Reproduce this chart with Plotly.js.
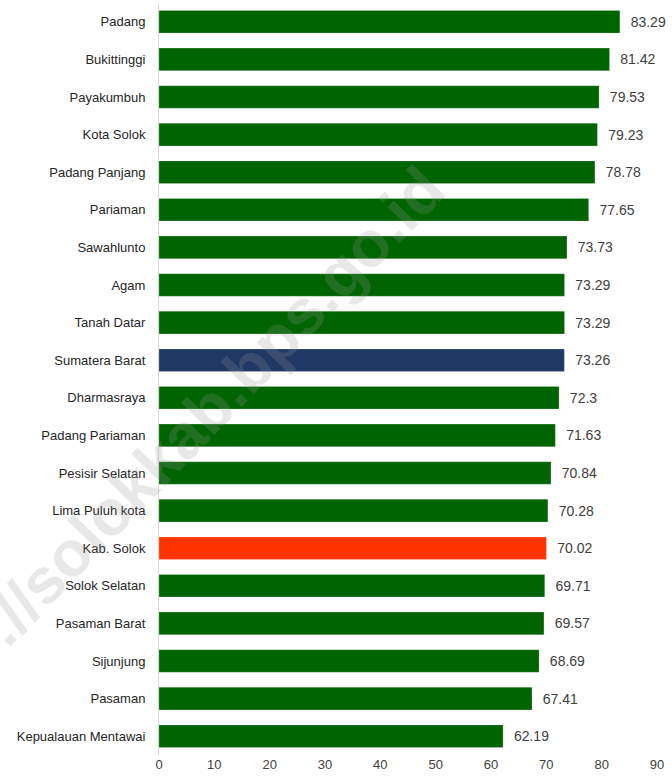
<!DOCTYPE html>
<html>
<head>
<meta charset="utf-8">
<script src="https://cdn.plot.ly/plotly-3.0.1.min.js"></script>
<style>html,body{margin:0;padding:0;background:#fff}#chart{width:672px;height:782px}</style>
</head>
<body>
<div id="chart"></div>
<script>
const regions = ["Padang","Bukittinggi","Payakumbuh","Kota Solok","Padang Panjang","Pariaman","Sawahlunto","Agam","Tanah Datar","Sumatera Barat","Dharmasraya","Padang Pariaman","Pesisir Selatan","Lima Puluh kota","Kab. Solok","Solok Selatan","Pasaman Barat","Sijunjung","Pasaman","Kepualauan Mentawai"];
const values = [83.29,81.42,79.53,79.23,78.78,77.65,73.73,73.29,73.29,73.26,72.3,71.63,70.84,70.28,70.02,69.71,69.57,68.69,67.41,62.19];
const xTicks = [0,10,20,30,40,50,60,70,80,90];

const colors = regions.map(r => r === "Sumatera Barat" ? "#203864" : (r === "Kab. Solok" ? "#FF3300" : "#006400"));

const trace = {
  type: "bar",
  orientation: "h",
  x: values,
  y: regions,
  marker: {color: colors, line: {color: "rgba(255,255,255,0.4)", width: 0.5}},
  width: 0.6,
  text: values.map(v => "  " + String(v)),
  textposition: "outside",
  cliponaxis: false,
  textfont: {family: "Liberation Sans, Arial, sans-serif", size: 14, color: "#404040"},
  hoverinfo: "none"
};

const layout = {
  width: 672, height: 782,
  margin: {l: 159, r: 15, t: 3, b: 27},
  paper_bgcolor: "#fff", plot_bgcolor: "#fff",
  font: {family: "Liberation Sans, Arial, sans-serif", size: 12, color: "#404040"},
  showlegend: false,
  xaxis: {
    range: [0, 90], tickvals: xTicks, ticktext: xTicks.map(String),
    showgrid: false, zeroline: false, showline: false, ticks: "",
    tickfont: {size: 13, color: "#404040"}
  },
  yaxis: {
    type: "category", autorange: "reversed",
    showgrid: false, zeroline: false, showline: true, linecolor: "#d9d9d9", linewidth: 1,
    ticks: "", ticklabelstandoff: 10,
    tickfont: {size: 13, color: "#262626"}
  },
  annotations: [{
    xref: "paper", yref: "paper", x: -0.004, y: 0.388,
    xanchor: "center", yanchor: "middle",
    text: "<b>https://solokkab.bps.go.id</b>", showarrow: false,
    textangle: -46,
    font: {family: "Liberation Sans, Arial, sans-serif", size: 64, color: "rgba(150,150,150,0.22)"}
  }]
};

Plotly.newPlot("chart", [trace], layout, {staticPlot: true, displayModeBar: false});
</script>
</body>
</html>
